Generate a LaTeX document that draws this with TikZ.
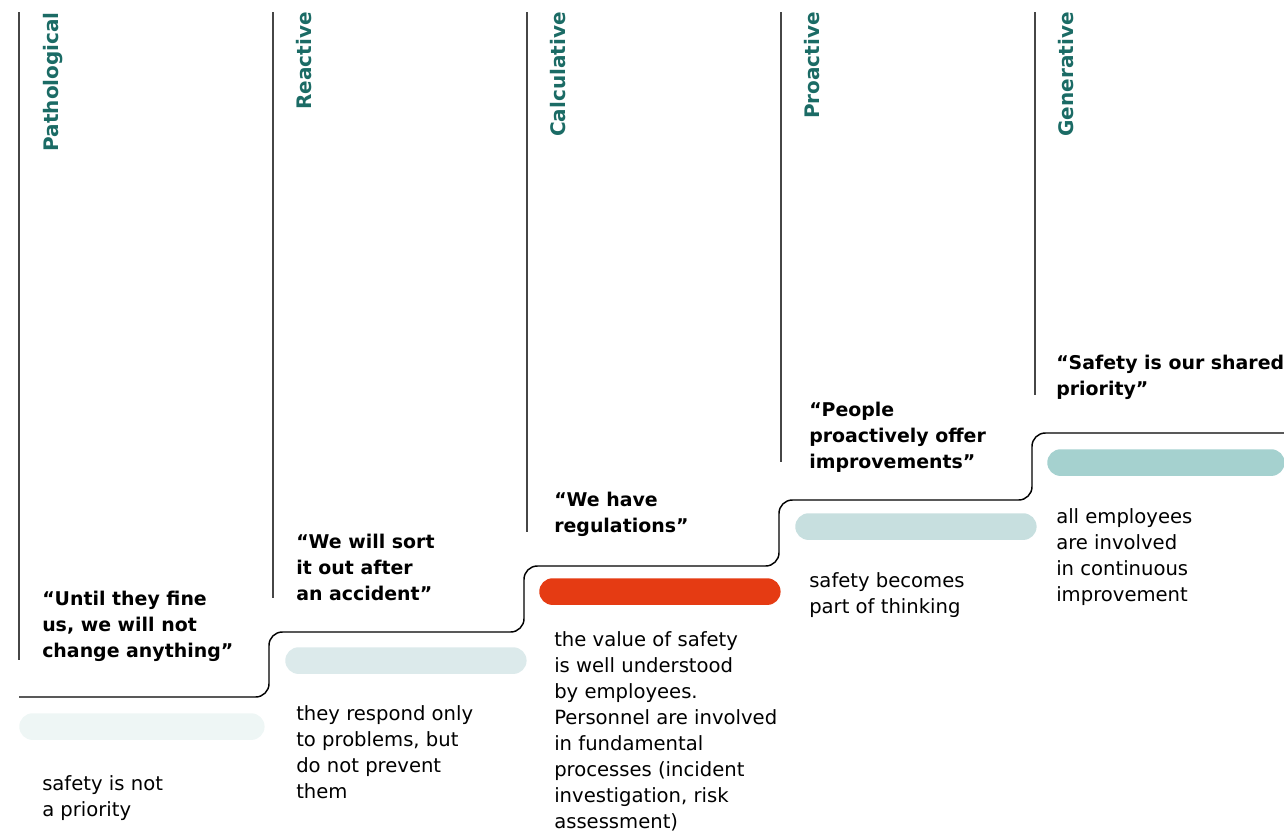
\documentclass[tikz,border=0pt]{standalone}
\usepackage{fontspec}
\setmainfont{DejaVu Sans}
\usepackage{tikz}
\usetikzlibrary{positioning}
\definecolor{stageteal}{RGB}{27,107,101}
\definecolor{rulegrey}{RGB}{70,70,70}
\definecolor{barpatho}{RGB}{238,246,245}
\definecolor{barreact}{RGB}{220,234,235}
\definecolor{barcalc}{RGB}{229,59,19}
\definecolor{barproact}{RGB}{199,223,223}
\definecolor{bargener}{RGB}{165,209,207}

\begin{document}
\begin{tikzpicture}[
    x=0.75pt, y=-0.75pt,
    stagelabel/.style={rotate=90, anchor=base east, inner sep=0pt,
        text=stageteal, font=\fontsize{15}{18}\selectfont\bfseries},
    stagerule/.style={draw=rulegrey, line width=1.1pt},
    quote/.style={anchor=base west, align=left, inner sep=0pt,
        font=\fontsize{14.2}{19.5}\selectfont\bfseries},
    note/.style={anchor=base west, align=left, inner sep=0pt,
        font=\fontsize{14.7}{19.4}\selectfont},
    bar/.style={anchor=north west, inner sep=0pt, minimum height=20pt,
        minimum width=181pt, rounded corners=10pt},
    stepline/.style={draw=black, line width=1.1pt, rounded corners=10pt}
]
\useasboundingbox (0,0) rectangle (1284,832);

% column rules
\draw[stagerule] (19,12) -- (19,660);
\draw[stagerule] (273,12) -- (273,598);
\draw[stagerule] (527,12) -- (527,532);
\draw[stagerule] (781,12) -- (781,462);
\draw[stagerule] (1035,12) -- (1035,395);

% stage names
\node[stagelabel] (patho) at (58,12) {Pathological};
\node[stagelabel] (react) at (311,12) {Reactive};
\node[stagelabel] (calc) at (565,12) {Calculative};
\node[stagelabel] (proact) at (819,12) {Proactive};
\node[stagelabel] (gener) at (1073,12) {Generative};

% staircase
\draw[stepline] (19,697) -- (269,697) -- (269,632) -- (524,632) -- (524,566)
    -- (779,566) -- (779,500) -- (1032,500) -- (1032,433) -- (1284,433);

% level bars
\node[bar, fill=barpatho, minimum width=184pt] (pathobar) at (19,713) {};
\node[bar, fill=barreact] (reactbar) at (285,647) {};
\node[bar, fill=barcalc] (calcbar) at (539,578) {};
\node[bar, fill=barproact] (proactbar) at (795,513) {};
\node[bar, fill=bargener, minimum width=178pt] (generbar) at (1047,449) {};

% quotes (anchored on the last line)
\node[quote] (pathoquote) at (42,657) {“Until they fine\\us, we will not\\change anything”};
\node[quote] (reactquote) at (296,600) {“We will sort\\it out after\\an accident”};
\node[quote] (calcquote) at (554,532) {“We have\\regulations”};
\node[quote] (proactquote) at (809,468) {“People\\proactively offer\\improvements”};
\node[quote] (generquote) at (1056,395) {“Safety is our shared\\priority”};

% descriptions (anchored on the last line)
\node[note] (pathonote) at (42,816) {safety is not\\a priority};
\node[note] (reactnote) at (296,798) {they respond only\\to problems, but\\do not prevent\\them};
\node[note] (calcnote) at (554,828) {the value of safety\\is well understood\\by employees.\\Personnel are involved\\in fundamental\\processes (incident\\investigation, risk\\assessment)};
\node[note] (proactnote) at (809,613) {safety becomes\\part of thinking};
\node[note] (genernote) at (1056,601) {all employees\\are involved\\in continuous\\improvement};
\end{tikzpicture}
\end{document}
